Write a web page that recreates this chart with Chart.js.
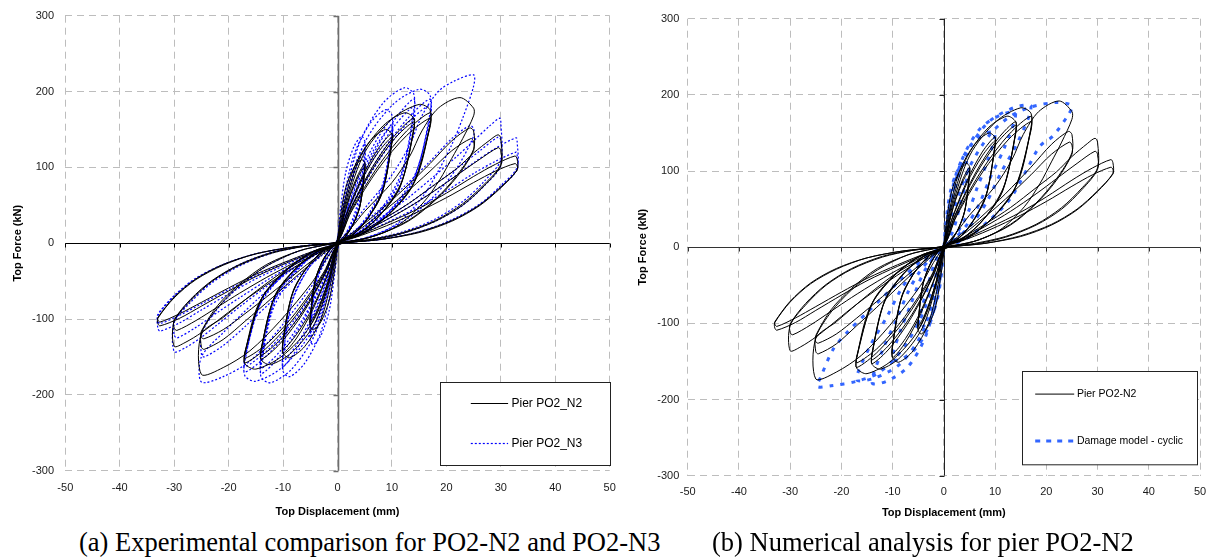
<!DOCTYPE html>
<html>
<head>
<meta charset="utf-8">
<script src="https://cdn.jsdelivr.net/npm/chart.js@4.4.1/dist/chart.umd.min.js"></script>
<style>
  html, body { margin: 0; padding: 0; background: #fff; width: 1208px; height: 558px; overflow: hidden; }
  canvas { position: absolute; top: 0; }
  #left { left: 0; }
  #right { left: 628px; }
  .cap { position: absolute; top: 529px; font-family: "Liberation Serif", "Times New Roman", serif;
         font-size: 26.5px; line-height: 1; white-space: nowrap; color: #000; }
</style>
</head>
<body>
<canvas id="left" width="630" height="525"></canvas>
<canvas id="right" width="580" height="525"></canvas>
<div class="cap" style="left:79px">(a) Experimental comparison for PO2-N2 and PO2-N3</div>
<div class="cap" style="left:712px">(b) Numerical analysis for pier PO2-N2</div>
<script>
// axis ticks
const xTicks = [-50, -40, -30, -20, -10, 0, 10, 20, 30, 40, 50];
const yTicks = [-300, -200, -100, 0, 100, 200, 300];

// Pier PO2_N2 (test) - [displacement mm, force kN], grouped by imposed displacement level
const n2Lvl5 = [
  [0,0],[0.5,33],[1.5,73],[3,99],[4.4,110],[5,106],[5,97],[4.25,53],[3,27],[1.5,9],[0.3,1],
  [-0.5,-34],[-1.5,-75],[-3,-103],[-4.4,-114],[-5,-109],[-5,-98],[-4.25,-54],[-3,-27],[-1.5,-9],[-0.3,-1],
  [0.75,26],[2.25,63],[3.75,90],[5,105],[5,96],[4.1,48],[2.75,23],[1.25,7],[0.2,0],
  [-0.75,-27],[-2.25,-65],[-3.75,-93],[-5,-108],[-5,-98],[-4.1,-49],[-2.75,-24],[-1.25,-7],[-0.2,0],
  [0.75,25],[2.25,61],[3.75,87],[5,101],[5,95],[4.1,48],[2.75,23],[1.25,7],[0.2,0],
  [-0.75,-26],[-2.25,-62],[-3.75,-89],[-5,-104],[-5,-97],[-4.1,-49],[-2.75,-23],[-1.25,-7],[-0.2,0]
];
const n2Lvl10 = [
  [1,45],[3,99],[6,135],[8.8,150],[10,144],[10,135],[8.5,74],[6,38],[3,12],[0.3,1],
  [-1,-45],[-3,-100],[-6,-136],[-8.8,-151],[-10,-145],[-10,-129],[-8.5,-71],[-6,-36],[-3,-12],[-0.3,-1],
  [1.5,36],[4.5,87],[7.5,125],[10,145],[10,134],[8.2,67],[5.5,32],[2.5,9],[0.2,0],
  [-1.5,-36],[-4.5,-87],[-7.5,-125],[-10,-145],[-10,-130],[-8.2,-65],[-5.5,-31],[-2.5,-9],[-0.2,0],
  [1.5,35],[4.5,84],[7.5,120],[10,140],[10,132],[8.2,66],[5.5,32],[2.5,9],[0.2,0],
  [-1.5,-35],[-4.5,-84],[-7.5,-120],[-10,-140],[-10,-128],[-8.2,-64],[-5.5,-31],[-2.5,-9],[-0.2,0]
];
const n2Lvl14 = [
  [1.4,52],[4.2,114],[8.4,155],[12.3,172],[14,165],[14,150],[11.9,83],[8.4,42],[4.2,14],[0.3,1],
  [-1.4,-48],[-4.2,-106],[-8.4,-144],[-12.3,-160],[-14,-154],[-14,-140],[-11.9,-77],[-8.4,-39],[-4.2,-13],[-0.3,-1],
  [2.1,41],[6.3,99],[10.5,142],[14,165],[14,150],[11.5,75],[7.7,36],[3.5,11],[0.2,0],
  [-2.1,-38],[-6.3,-92],[-10.5,-132],[-14,-153],[-14,-140],[-11.5,-70],[-7.7,-34],[-3.5,-10],[-0.2,0],
  [2.1,40],[6.3,96],[10.5,138],[14,160],[14,148],[11.5,74],[7.7,36],[3.5,10],[0.2,0],
  [-2.1,-37],[-6.3,-89],[-10.5,-127],[-14,-148],[-14,-138],[-11.5,-69],[-7.7,-33],[-3.5,-10],[-0.2,0]
];
const n2Lvl17 = [
  [1.7,55],[5.1,121],[10.2,165],[15,183],[17,176],[17,157],[14.5,86],[10.2,44],[5.1,14],[0.3,1],
  [-1.7,-50],[-5.1,-110],[-10.2,-149],[-15,-166],[-17,-159],[-17,-145],[-14.5,-80],[-10.2,-41],[-5.1,-13],[-0.3,-1],
  [2.5,43],[7.6,103],[12.7,148],[17,172],[17,155],[13.9,78],[9.3,37],[4.2,11],[0.2,0],
  [-2.5,-40],[-7.6,-95],[-12.7,-136],[-17,-158],[-17,-145],[-13.9,-73],[-9.3,-35],[-4.2,-10],[-0.2,0],
  [2.5,41],[7.6,99],[12.7,142],[17,165],[17,153],[13.9,77],[9.3,37],[4.2,11],[0.2,0],
  [-2.5,-38],[-7.6,-91],[-12.7,-131],[-17,-152],[-17,-143],[-13.9,-72],[-9.3,-34],[-4.2,-10],[-0.2,0]
];
const n2Lvl25 = [
  [2.5,20],[5,42],[10,80],[13.3,115],[15.5,148],[18.5,178],[22.5,192],[25,178],[25,168],[23,138],[21,112],[18.8,84],[15.7,53],[10.8,22],[4.7,5],[0.3,0],
  [-2,-20],[-4.5,-50],[-10.6,-103],[-16.1,-142],[-21,-164],[-25,-173],[-25,-120],[-21,-98],[-14.9,-63],[-8.8,-32],[-2.7,-10],[-0.3,-1],
  [3,15],[7,38],[12,70],[17,105],[21,135],[24.3,152],[25,148],[25,124],[22,90],[18,58],[13,30],[7,10],[2,2],[0.2,0],
  [-3,-16],[-7,-40],[-12,-72],[-17,-103],[-21,-127],[-24.5,-140],[-25,-137],[-25,-118],[-22,-85],[-18,-56],[-13,-30],[-7,-10],[-2,-2],[-0.2,0],
  [3,13],[7,34],[12,63],[17,95],[21,122],[24.5,138],[25,134],[25,122],[22,88],[18,57],[13,29],[7,10],[2,2],[0.2,0],
  [-3,-14],[-7,-36],[-12,-65],[-17,-93],[-21,-114],[-24.5,-126],[-25,-124],[-25,-116],[-22,-82],[-18,-54],[-13,-28],[-7,-10],[-2,-2],[-0.2,0]
];
const n2Lvl30 = [
  [3,10],[8,30],[13,52],[18,78],[22,99],[25,119],[28,136],[29.5,143],[30,138],[30,104],[27,78],[23,52],[18,30],[12,14],[6,5],[1,0],
  [-3,-11],[-8,-32],[-13,-55],[-18,-80],[-22,-102],[-25,-118],[-28,-131],[-30,-136],[-30,-103],[-27,-76],[-23,-50],[-18,-29],[-12,-13],[-6,-4],[-1,0],
  [3,9],[8,27],[13,47],[18,70],[22,90],[26,110],[29.5,126],[30,122],[30,102],[27,76],[23,50],[18,29],[12,13],[6,4],[1,0],
  [-3,-9],[-8,-26],[-13,-45],[-18,-66],[-22,-84],[-26,-102],[-29.5,-115],[-30,-112],[-30,-101],[-27,-74],[-23,-49],[-18,-28],[-12,-12],[-6,-4],[-1,0]
];
const n2Lvl33 = [
  [3,8],[9,26],[15,46],[20,66],[25,88],[29,104],[32.6,115],[33,111],[33,97],[30,74],[26,50],[21,30],[15,15],[8,5],[1,0],
  [-3,-8],[-9,-25],[-15,-44],[-20,-63],[-25,-83],[-29,-99],[-32.6,-109],[-33,-106],[-33,-99],[-30,-72],[-26,-48],[-21,-29],[-15,-14],[-8,-5],[-1,0],
  [3,7],[9,23],[15,42],[20,60],[25,80],[29,95],[32.6,105],[33,102],[33,96],[30,73],[26,49],[21,29],[15,14],[8,5],[1,0],
  [-3,-7],[-9,-23],[-15,-41],[-20,-59],[-25,-78],[-29,-93],[-32.6,-104],[-33,-101],[-33,-98],[-30,-71],[-26,-47],[-21,-28],[-15,-14],[-8,-5],[-1,0]
];

// Pier PO2_N3 (test)
const n3Lvl5 = [
  [0,0],[0.5,42],[1.5,93],[3,127],[4.4,141],[5,135],[5,128],[4.25,70],[3,36],[1.5,12],[0.3,0],
  [-0.5,-40],[-1.5,-88],[-3,-121],[-4.4,-134],[-5,-129],[-5,-118],[-4.25,-65],[-3,-33],[-1.5,-11],[-0.3,0],
  [0.75,33],[2.25,79],[3.75,113],[5,131],[5,112],[4.1,56],[2.75,27],[1.25,8],[0.2,0],
  [-0.75,-31],[-2.25,-74],[-3.75,-107],[-5,-124],[-5,-110],[-4.1,-55],[-2.75,-26],[-1.25,-8],[-0.2,0],
  [0.75,31],[2.25,73],[3.75,105],[5,122],[5,101],[4.1,51],[2.75,24],[1.25,7],[0.2,0],
  [-0.75,-30],[-2.25,-71],[-3.75,-101],[-5,-118],[-5,-107],[-4.1,-54],[-2.75,-26],[-1.25,-7],[-0.2,0]
];
const n3Lvl10 = [
  [1,53],[3,116],[6,158],[8.8,176],[10,169],[10,150],[8.5,83],[6,42],[3,14],[0.3,0],
  [-1,-53],[-3,-116],[-6,-158],[-8.8,-176],[-10,-169],[-10,-148],[-8.5,-81],[-6,-41],[-3,-13],[-0.3,0],
  [1.5,41],[4.5,98],[7.5,140],[10,163],[10,142],[8.2,71],[5.5,34],[2.5,10],[0.2,0],
  [-1.5,-41],[-4.5,-98],[-7.5,-140],[-10,-163],[-10,-146],[-8.2,-73],[-5.5,-35],[-2.5,-10],[-0.2,0],
  [1.5,39],[4.5,93],[7.5,133],[10,155],[10,135],[8.2,68],[5.5,32],[2.5,9],[0.2,0],
  [-1.5,-39],[-4.5,-94],[-7.5,-134],[-10,-156],[-10,-146],[-8.2,-73],[-5.5,-35],[-2.5,-10],[-0.2,0]
];
const n3Lvl14 = [
  [1.4,62],[4.2,135],[8.4,185],[12.3,205],[14,197],[14,175],[11.9,96],[8.4,49],[4.2,16],[0.3,0],
  [-1.4,-55],[-4.2,-121],[-8.4,-166],[-12.3,-184],[-14,-177],[-14,-160],[-11.9,-88],[-8.4,-45],[-4.2,-14],[-0.3,0],
  [2.1,48],[6.3,114],[10.5,163],[14,190],[14,168],[11.5,84],[7.7,40],[3.5,12],[0.2,0],
  [-2.1,-43],[-6.3,-103],[-10.5,-148],[-14,-172],[-14,-150],[-11.5,-75],[-7.7,-36],[-3.5,-11],[-0.2,0],
  [2.1,45],[6.3,108],[10.5,155],[14,180],[14,163],[11.5,82],[7.7,39],[3.5,11],[0.2,0],
  [-2.1,-41],[-6.3,-99],[-10.5,-142],[-14,-165],[-14,-148],[-11.5,-74],[-7.7,-36],[-3.5,-10],[-0.2,0]
];
const n3Lvl17 = [
  [1.7,61],[5.1,134],[10.2,183],[15,203],[17,195],[17,172],[14.5,95],[10.2,48],[5.1,15],[0.3,0],
  [-1.7,-55],[-5.1,-120],[-10.2,-164],[-15,-182],[-17,-175],[-17,-155],[-14.5,-85],[-10.2,-43],[-5.1,-14],[-0.3,0],
  [2.5,48],[7.6,114],[12.7,163],[17,190],[17,166],[13.9,83],[9.3,40],[4.2,12],[0.2,0],
  [-2.5,-43],[-7.6,-102],[-12.7,-146],[-17,-170],[-17,-152],[-13.9,-76],[-9.3,-36],[-4.2,-11],[-0.2,0],
  [2.5,46],[7.6,109],[12.7,157],[17,182],[17,163],[13.9,82],[9.3,39],[4.2,11],[0.2,0],
  [-2.5,-41],[-7.6,-98],[-12.7,-140],[-17,-163],[-17,-150],[-13.9,-75],[-9.3,-36],[-4.2,-11],[-0.2,0]
];
const n3Lvl25 = [
  [2.5,22],[5,46],[10,90],[13.3,130],[15.5,168],[18.5,200],[21.5,214],[25,222],[25,207],[23,165],[21,130],[18.5,95],[15.5,60],[10.8,25],[4.7,6],[0.3,0],
  [-2,-22],[-4.5,-54],[-10.6,-112],[-16,-155],[-21,-176],[-25,-183],[-25,-150],[-21,-118],[-15,-76],[-9,-38],[-3,-11],[-0.3,0],
  [3,16],[7,40],[12,73],[17,108],[21,138],[24.3,155],[25,151],[25,141],[22,100],[18,64],[13,33],[7,11],[2,2],[0.2,0],
  [-3,-17],[-7,-42],[-12,-76],[-17,-110],[-21,-135],[-24.5,-150],[-25,-146],[-25,-120],[-22,-86],[-18,-57],[-13,-30],[-7,-10],[-2,-2],[-0.2,0]
];
const n3Lvl30 = [
  [3,11],[8,34],[13,60],[18,90],[22,115],[25,135],[28,155],[29.8,165],[30,160],[30,110],[27,82],[23,55],[18,32],[12,15],[6,5],[1,0],
  [-3,-11],[-8,-33],[-13,-57],[-18,-84],[-22,-107],[-25,-124],[-28,-138],[-30,-143],[-30,-105],[-27,-78],[-23,-52],[-18,-30],[-12,-13],[-6,-4],[-1,0],
  [3,10],[8,30],[13,52],[18,78],[22,99],[26,121],[29.5,140],[30,136],[30,102],[27,76],[23,50],[18,29],[12,13],[6,4],[1,0],
  [-3,-10],[-8,-28],[-13,-49],[-18,-72],[-22,-91],[-26,-111],[-29.5,-125],[-30,-121],[-30,-103],[-27,-75],[-23,-50],[-18,-28],[-12,-12],[-6,-4],[-1,0]
];
const n3Lvl33 = [
  [3,9],[9,31],[15,56],[20,80],[25,106],[29,125],[32.8,139],[33,134],[33,100],[30,76],[26,51],[21,31],[15,15],[8,5],[1,0],
  [-3,-8],[-9,-27],[-15,-47],[-20,-67],[-25,-88],[-29,-105],[-32.6,-116],[-33,-112],[-33,-96],[-30,-70],[-26,-47],[-21,-28],[-15,-14],[-8,-5],[-1,0],
  [3,8],[9,27],[15,48],[20,69],[25,92],[29,108],[32.8,120],[33,116],[33,97],[30,74],[26,50],[21,30],[15,15],[8,5],[1,0],
  [-3,-7],[-9,-24],[-15,-43],[-20,-61],[-25,-80],[-29,-95],[-32.6,-106],[-33,-103],[-33,-94],[-30,-69],[-26,-46],[-21,-28],[-15,-14],[-8,-5],[-1,0]
];

// Damage model - cyclic (numerical)
const dmLvl5 = [
  [0,0],[0.4,33],[1.25,72],[2.5,98],[4,110],[5,111],[4.25,83],[3.25,58],[2.5,37],[1.75,21],[0.75,7],[0,0],
  [-0.4,-32],[-1.25,-68],[-2.5,-92],[-4,-104],[-5,-105],[-4.25,-79],[-3.25,-55],[-2.5,-35],[-1.75,-20],[-0.75,-6],[0,0]
];
const dmLvl10 = [
  [0.8,45],[2.5,98],[5,132],[8,149],[10,150],[8.5,113],[6.5,78],[5,50],[3.5,29],[1.5,9],[0,0],
  [-0.8,-44],[-2.5,-96],[-5,-129],[-8,-146],[-10,-147],[-8.5,-110],[-6.5,-76],[-5,-49],[-3.5,-28],[-1.5,-9],[0,0]
];
const dmLvl14 = [
  [1.1,53],[3.5,114],[7,155],[11.2,174],[14,176],[11.9,132],[9.1,92],[7,58],[4.9,33],[2.1,11],[0,0],
  [-1.1,-53],[-3.5,-116],[-7,-157],[-11.2,-176],[-14,-178],[-11.9,-134],[-9.1,-93],[-7,-59],[-4.9,-34],[-2.1,-11],[0,0]
];
const dmLvl17 = [
  [1.4,56],[4.25,120],[8.5,163],[13.6,183],[17,185],[14.5,139],[11,96],[8.5,61],[6,35],[2.5,11],[0,0],
  [-1.4,-52],[-4.25,-113],[-8.5,-153],[-13.6,-172],[-17,-174],[-14.5,-131],[-11,-90],[-8.5,-57],[-6,-33],[-2.5,-10],[0,0]
];
const dmLvl25 = [
  [2,50],[5,105],[9,148],[13,172],[17,184],[22,190],[25,186],[24.3,174],[21.3,146],[18.8,133],[16.2,102],[12.9,63],[9,36],[5,14],[2,4],[0,0],
  [-2,-48],[-5,-100],[-9,-142],[-13,-166],[-17,-176],[-22,-182],[-24.7,-183],[-24,-170],[-21.6,-134],[-18.9,-112],[-15,-86],[-12.4,-69],[-8,-40],[-4,-15],[-1.5,-4],[0,0]
];

const n2Path = [n2Lvl5, n2Lvl10, n2Lvl14, n2Lvl17, n2Lvl25, n2Lvl30, n2Lvl33];
const n3Path = [n3Lvl5, n3Lvl10, n3Lvl14, n3Lvl17, n3Lvl25, n3Lvl30, n3Lvl33];
const dmPath = [dmLvl5, dmLvl10, dmLvl14, dmLvl17, dmLvl25];

const toXY = levels => levels.flat().map(p => ({ x: p[0], y: p[1] }));

Chart.defaults.font.family = '"Liberation Sans", Arial, sans-serif';
Chart.defaults.font.size = 11;
Chart.defaults.color = '#1a1a1a';

// solid zero axes with small tick marks
const zeroAxes = {
  id: 'zeroAxes',
  beforeDatasetsDraw(chart, args, opts) {
    const { ctx, chartArea: a, scales: { x, y } } = chart;
    const x0 = Math.round(x.getPixelForValue(0)) + 0.5;
    const y0 = Math.round(y.getPixelForValue(0)) + 0.5;
    ctx.save();
    ctx.strokeStyle = opts.xColor;
    ctx.lineWidth = 1;
    ctx.beginPath();
    ctx.moveTo(a.left, y0);
    ctx.lineTo(a.right, y0);
    xTicks.forEach(v => {
      const px = Math.round(x.getPixelForValue(v)) + 0.5;
      ctx.moveTo(px, y0);
      ctx.lineTo(px, y0 + 4);
    });
    ctx.stroke();
    ctx.strokeStyle = opts.yColor;
    ctx.lineWidth = opts.yWidth;
    ctx.beginPath();
    ctx.moveTo(x0, a.top);
    ctx.lineTo(x0, a.bottom);
    yTicks.forEach(v => {
      const py = Math.round(y.getPixelForValue(v)) + 0.5;
      ctx.moveTo(x0 - 5, py);
      ctx.lineTo(x0, py);
    });
    ctx.stroke();
    ctx.restore();
  }
};

// boxed legend inside the plot area, bottom right
const boxLegend = {
  id: 'boxLegend',
  afterDraw(chart, args, opts) {
    const { ctx, chartArea: a } = chart;
    const bx = Math.round(a.right - opts.gapRight - opts.w) + 0.5;
    const by = Math.round(a.bottom - opts.gapBottom - opts.h) + 0.5;
    ctx.save();
    ctx.fillStyle = '#fff';
    ctx.fillRect(bx, by, opts.w, opts.h);
    ctx.strokeStyle = '#222';
    ctx.lineWidth = 1;
    ctx.strokeRect(bx, by, opts.w, opts.h);
    ctx.font = opts.font;
    ctx.textBaseline = 'middle';
    opts.items.forEach(it => {
      ctx.beginPath();
      ctx.setLineDash(it.dash);
      ctx.strokeStyle = it.color;
      ctx.lineWidth = it.width;
      ctx.moveTo(bx + opts.lx1, by + it.ly);
      ctx.lineTo(bx + opts.lx2, by + it.ly);
      ctx.stroke();
      ctx.setLineDash([]);
      ctx.fillStyle = '#000';
      ctx.fillText(it.text, bx + opts.tx, by + it.ly + 0.5);
    });
    ctx.restore();
  }
};

function makeChart(id, datasets, g) {
  return new Chart(document.getElementById(id), {
    type: 'scatter',
    data: { datasets },
    plugins: [zeroAxes, boxLegend],
    options: {
      responsive: false,
      animation: false,
      devicePixelRatio: 1,
      layout: { padding: { top: g.top, right: g.right, bottom: 0, left: 0 } },
      elements: { point: { radius: 0 }, line: { tension: 0.3 } },
      scales: {
        x: {
          type: 'linear', min: -50, max: 50,
          afterBuildTicks: s => { s.ticks = xTicks.map(v => ({ value: v })); },
          afterFit: s => { s.height = g.xHeight; s.paddingLeft = 0; s.paddingRight = 0; },
          grid: { color: '#bdbdbd', lineWidth: 1, drawTicks: false },
          border: { display: false, dash: [7, 5] },
          ticks: { padding: g.xPad, color: '#1a1a1a' },
          title: { display: true, text: 'Top Displacement (mm)', font: { weight: 'bold', size: 11 }, color: '#000', padding: { top: 0, bottom: g.xTitlePad } }
        },
        y: {
          type: 'linear', min: -300, max: 300,
          afterBuildTicks: s => { s.ticks = yTicks.map(v => ({ value: v })); },
          afterFit: s => { s.width = g.yWidth; s.paddingTop = 0; s.paddingBottom = 0; },
          grid: { color: '#bdbdbd', lineWidth: 1, drawTicks: false },
          border: { display: false, dash: [7, 5] },
          ticks: { padding: g.yPad, color: '#1a1a1a' },
          title: { display: true, text: 'Top Force (kN)', font: { weight: 'bold', size: 11 }, color: '#000', padding: { top: g.yTitlePad, bottom: 0 } }
        }
      },
      plugins: {
        legend: { display: false },
        tooltip: { enabled: false },
        zeroAxes: g.axes,
        boxLegend: g.legend
      }
    }
  });
}

const n2Style = { borderColor: '#000', borderWidth: 1, showLine: true, pointRadius: 0, xAxisID: 'x', yAxisID: 'y' };

makeChart('left', [
  Object.assign({ label: 'Pier PO2_N2', data: toXY(n2Path) }, n2Style),
  { label: 'Pier PO2_N3', data: toXY(n3Path), borderColor: '#0000ff', borderWidth: 1.2, borderDash: [2, 2],
    showLine: true, pointRadius: 0, xAxisID: 'x', yAxisID: 'y' }
], {
  top: 15.7, right: 20.3, xHeight: 54.3, yWidth: 65.3, xPad: 10.5, yPad: 11.3, xTitlePad: 6.4, yTitlePad: 11,
  axes: { xColor: '#000', yColor: '#6e6e6e', yWidth: 1.6 },
  legend: {
    w: 170, h: 83, gapRight: 0, gapBottom: 5.4, lx1: 30.3, lx2: 67.6, tx: 71,
    font: '12px "Liberation Sans", Arial, sans-serif',
    items: [
      { text: 'Pier PO2_N2', ly: 21, color: '#000', width: 1, dash: [] },
      { text: 'Pier PO2_N3', ly: 61, color: '#0000ff', width: 1.2, dash: [2, 2] }
    ]
  }
});

makeChart('right', [
  Object.assign({ label: 'Pier PO2-N2', data: toXY(n2Path) }, n2Style),
  { label: 'Damage model - cyclic', data: toXY(dmPath), borderColor: '#3366ff', borderWidth: 3, borderDash: [4, 7],
    showLine: true, pointRadius: 0, xAxisID: 'x', yAxisID: 'y' }
], {
  top: 18.7, right: 8, xHeight: 49.3, yWidth: 59.7, xPad: 10, yPad: 8.4, xTitlePad: 5, yTitlePad: 8.4,
  axes: { xColor: '#333', yColor: '#222', yWidth: 1 },
  legend: {
    w: 175, h: 93.3, gapRight: 2.7, gapBottom: 11.7, lx1: 12.7, lx2: 51.7, tx: 54.4,
    font: '10.5px "Liberation Sans", Arial, sans-serif',
    items: [
      { text: 'Pier PO2-N2', ly: 22.6, color: '#000', width: 1, dash: [] },
      { text: 'Damage model - cyclic', ly: 69.6, color: '#3366ff', width: 3, dash: [5, 6] }
    ]
  }
});
</script>
</body>
</html>
